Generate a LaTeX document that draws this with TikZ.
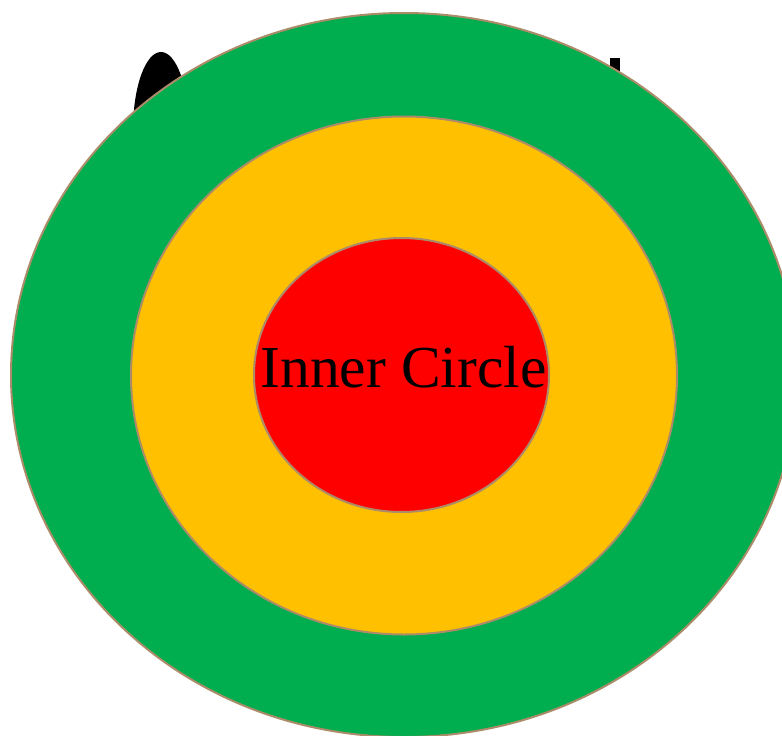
\documentclass[tikz,border=0pt]{standalone}
\usepackage{fontspec}
\setmainfont{Liberation Serif}
\usetikzlibrary{shapes.geometric}
\definecolor{vert}{RGB}{0,173,79}
\definecolor{jaune}{RGB}{255,192,0}
\definecolor{rouge}{RGB}{255,0,0}
\definecolor{bord}{RGB}{172,140,104}
\begin{document}
\begin{tikzpicture}[x=1pt,y=-1pt]
    \useasboundingbox (0,0) rectangle (782,736);
    %%%%%%%%%%%%%%%%%%%%%%%%%%%%%%%%%%%%%% Formes noires
    \fill[black] (161,130) ellipse [x radius=28, y radius=78];
    \fill[black] (610,58) rectangle (620,95);

    %%%%%%%%%%%%%%%%%%%%%%%%%%%%%%%%%%%%%% Anneaux
    \tikzstyle{ring}=[ellipse,draw=bord,line width=2pt,inner sep=0pt]
    \node[ring,fill=vert,minimum width=786pt,minimum height=724pt] (outer) at (404,375) {};
    \node[ring,fill=jaune,minimum width=546pt,minimum height=518pt] (middle) at (404,375.5) {};
    \node[ring,fill=rouge,minimum width=295pt,minimum height=274pt] (inner) at (401.5,375) {};

    %%%%%%%%%%%%%%%%%%%%%%%%%%%%%%%%%%%%%% Texte
    \node[anchor=base,inner sep=0pt,font=\fontsize{59.5}{60}\selectfont] (label) at (403.5,387) {Inner Circle};
\end{tikzpicture}
\end{document}
